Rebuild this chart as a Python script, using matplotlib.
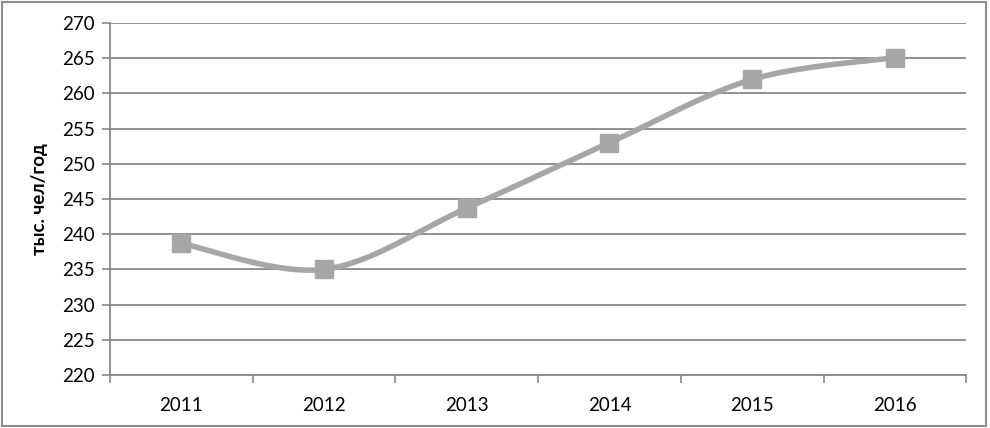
import numpy as np
import matplotlib
matplotlib.use("Agg")
import matplotlib.pyplot as plt
from matplotlib.patches import Rectangle

plt.rcParams["font.family"] = ["Lato", "DejaVu Sans"]

years = ["2011", "2012", "2013", "2014", "2015", "2016"]
values = [238.7, 235.0, 243.7, 253.0, 262.0, 265.1]
y_ticks = list(range(220, 271, 5))


def smooth(xs, ys, n=40):
    # Excel-like smoothing: cubic Bezier with Catmull-Rom control points
    xs = np.asarray(xs, float)
    ys = np.asarray(ys, float)
    px = np.concatenate([[xs[0]], xs, [xs[-1]]])
    py = np.concatenate([[ys[0]], ys, [ys[-1]]])
    ox, oy = [], []
    t = np.linspace(0, 1, n)
    for i in range(1, len(px) - 2):
        p0 = np.array([px[i], py[i]])
        p3 = np.array([px[i + 1], py[i + 1]])
        c1 = p0 + (np.array([px[i + 1], py[i + 1]]) - np.array([px[i - 1], py[i - 1]])) / 6
        c2 = p3 - (np.array([px[i + 2], py[i + 2]]) - np.array([px[i], py[i]])) / 6
        b = ((1 - t) ** 3)[:, None] * p0 + (3 * (1 - t) ** 2 * t)[:, None] * c1 \
            + (3 * (1 - t) * t ** 2)[:, None] * c2 + (t ** 3)[:, None] * p3
        ox.extend(b[:, 0])
        oy.extend(b[:, 1])
    return ox, oy


fig = plt.figure(figsize=(9.9, 4.28), dpi=100)
fig.patches.append(Rectangle((0.002, 0.004), 0.994, 0.992, transform=fig.transFigure,
                             fill=False, edgecolor="#8c8c8c", linewidth=1.5))

ax = fig.add_axes([0.111, 0.124, 0.865, 0.822])
x = np.arange(len(years))
sx, sy = smooth(x, values)
ax.plot(sx, sy, color="#a6a6a6", linewidth=4, solid_capstyle="round", zorder=3)
ax.plot(x, values, linestyle="none", marker="s", markersize=13.5,
        markerfacecolor="#a6a6a6", markeredgecolor="#a6a6a6", zorder=4)

ax.set_xlim(-0.5, len(years) - 0.5)
ax.set_ylim(220, 270)
ax.set_yticks(y_ticks)
ax.set_yticklabels([str(v) for v in y_ticks], fontsize=13.5)
ax.set_xticks(np.arange(-0.5, len(years), 1))
ax.set_xticklabels([])
ax.set_xticks(x, minor=True)
ax.set_xticklabels(years, minor=True, fontsize=13.5)
ax.tick_params(axis="x", which="minor", length=0, pad=16)
ax.tick_params(axis="x", which="major", length=6, width=1.2, color="#888888")
ax.tick_params(axis="y", length=6, width=1.2, color="#888888", pad=5)

ax.grid(axis="y", color="#888888", linewidth=1.3)
ax.set_axisbelow(True)
for s in ["top", "right"]:
    ax.spines[s].set_visible(False)
for s in ["left", "bottom"]:
    ax.spines[s].set_color("#888888")
    ax.spines[s].set_linewidth(1.3)

ax.set_ylabel("тыс. чел/год", fontsize=13.5, fontweight="bold", labelpad=10)

fig.savefig("out.png", dpi=100)
